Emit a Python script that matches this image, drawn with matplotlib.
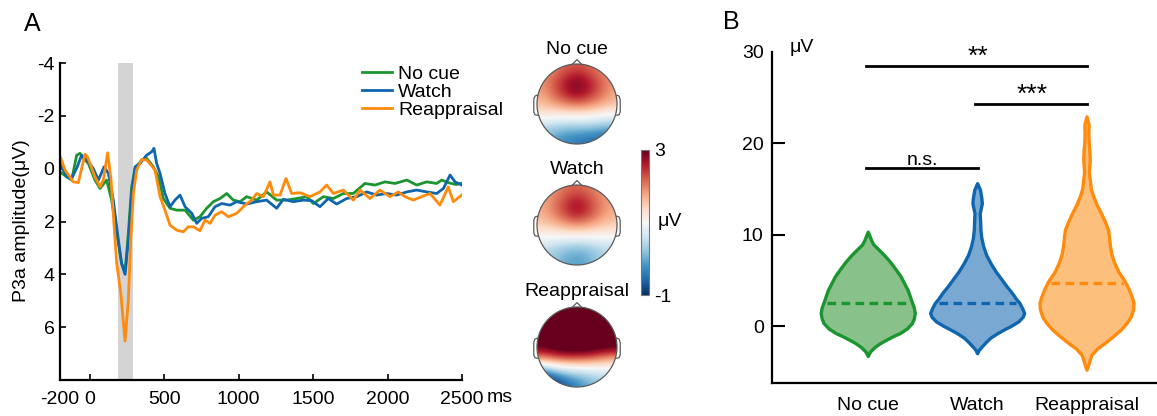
import numpy as np
import matplotlib.pyplot as plt
from matplotlib.patches import Circle
from matplotlib.colors import Normalize
from matplotlib.cm import ScalarMappable

plt.rcParams['font.family'] = ['Liberation Sans', 'DejaVu Sans']
plt.rcParams['font.size'] = 14
plt.rcParams['axes.unicode_minus'] = False

W, H = 1157, 416

# ---- panel A: P3a waveforms (ms, uV) ----
t_nocue = [-200, -155, -122, -88, -66, -43, -10, 35, 69, 113, 147, 181, 214, 237, 259, 281, 304,
           349, 382, 427, 461, 494, 539, 584, 640, 696, 740, 785, 830, 875, 920, 964, 1009, 1054,
           1121, 1188, 1255, 1323, 1390, 1457, 1502, 1569, 1636, 1703, 1770, 1848, 1915, 1983,
           2050, 2129, 2196, 2263, 2330, 2364, 2408, 2460, 2498]
v_nocue = [0.12, 0.31, 0.43, -0.51, -0.58, -0.39, -0.2, 0.43, 0.75, 0.43, 1.19, 2.45, 3.59, 3.9,
           2.45, 0.69, 0.0, -0.33, -0.39, -0.07, 0.31, 1.13, 1.5, 1.57, 1.57, 1.95, 1.82, 1.5,
           1.25, 1.13, 0.94, 1.19, 1.25, 1.06, 1.19, 0.88, 1.19, 1.19, 1.13, 1.06, 1.32, 1.06,
           1.13, 0.94, 0.94, 0.56, 0.62, 0.5, 0.56, 0.43, 0.62, 0.5, 0.56, 0.43, 0.53, 0.6, 0.55]

t_watch = [-200, -155, -122, -84, -55, -21, 24, 58, 96, 125, 158, 192, 214, 237, 259, 281, 304,
           337, 382, 416, 431, 449, 472, 505, 539, 572, 606, 640, 685, 718, 752, 796, 841, 886,
           942, 987, 1054, 1121, 1188, 1255, 1300, 1367, 1434, 1490, 1546, 1602, 1658, 1725,
           1793, 1860, 1927, 1994, 2061, 2129, 2196, 2263, 2330, 2375, 2420, 2453, 2498]
v_watch = [-0.2, 0.31, 0.37, -0.07, -0.51, -0.33, 0.0, 0.43, -0.07, 0.18, 1.19, 2.7, 3.6, 4.0,
           2.7, 0.94, -0.07, -0.2, -0.51, -0.64, -0.77, -0.2, 0.18, 0.94, 1.44, 1.19, 1.0, 1.44,
           1.69, 2.07, 1.88, 1.82, 1.44, 1.32, 1.38, 1.25, 1.34, 1.25, 1.19, 1.5, 1.16, 1.25,
           1.19, 1.21, 1.44, 1.13, 1.34, 1.13, 1.06, 0.88, 1.0, 0.94, 1.0, 0.88, 0.81, 0.88,
           0.94, 0.75, 0.24, 0.5, 0.62]

t_reapp = [-200, -166, -110, -77, -32, -16, 35, 69, 91, 120, 143, 165, 181, 208, 237, 259, 275,
           293, 315, 349, 382, 416, 438, 472, 505, 539, 584, 628, 662, 696, 740, 774, 808, 841,
           886, 931, 987, 1043, 1087, 1121, 1166, 1210, 1233, 1278, 1318, 1356, 1412, 1479, 1546,
           1591, 1636, 1703, 1770, 1815, 1882, 1949, 2016, 2073, 2117, 2173, 2229, 2285, 2352,
           2408, 2442, 2498]
v_reapp = [-0.48, 0.05, 0.5, 0.53, -0.55, -0.45, 0.31, 0.69, 0.43, -0.6, 0.43, 2.3, 3.59, 4.7,
           6.52, 4.98, 2.7, 0.94, 0.05, -0.35, -0.33, -0.1, 0.05, 1.06, 1.57, 2.14, 2.33, 2.39,
           2.2, 2.2, 2.35, 1.95, 2.07, 1.76, 1.63, 1.82, 1.69, 1.38, 1.19, 0.94, 1.06, 0.5, 1.0,
           1.0, 0.37, 0.94, 0.91, 1.06, 0.88, 0.62, 0.94, 0.81, 1.19, 0.81, 1.13, 0.81, 1.06,
           0.88, 1.06, 1.19, 1.06, 0.94, 1.38, 0.69, 1.25, 1.0]

p3a_window = [190, 290]

# ---- topographies (uV), coarse grids, top row = frontal ----
topo_nocue = [[1.8, 2.0, 2.2, 2.3, 2.2, 2.0, 1.8],
              [1.9, 2.2, 2.6, 2.9, 2.6, 2.2, 1.9],
              [1.8, 2.2, 2.6, 2.9, 2.6, 2.2, 1.8],
              [1.6, 1.8, 2.0, 2.1, 2.0, 1.8, 1.6],
              [1.2, 1.1, 1.1, 1.1, 1.1, 1.0, 0.9],
              [0.4, 0.3, 0.2, 0.2, 0.2, 0.1, 0.0],
              [0.1, -0.1, -0.3, -0.4, -0.5, -0.6, -0.6]]
topo_watch = [[1.7, 1.9, 2.1, 2.2, 2.1, 1.9, 1.7],
              [1.8, 2.0, 2.4, 2.7, 2.4, 2.0, 1.8],
              [1.7, 2.0, 2.4, 2.7, 2.4, 2.0, 1.7],
              [1.5, 1.6, 1.8, 1.9, 1.8, 1.6, 1.5],
              [1.0, 1.0, 1.0, 1.0, 1.0, 1.0, 1.0],
              [0.5, 0.4, 0.2, 0.1, 0.2, 0.4, 0.5],
              [0.3, 0.2, 0.0, -0.1, 0.0, 0.3, 0.4]]
topo_reapp = [[3.5, 3.5, 3.5, 3.5, 3.5, 3.5, 3.5],
              [3.5, 3.6, 3.8, 3.9, 3.8, 3.6, 3.5],
              [3.4, 3.6, 3.8, 3.9, 3.8, 3.6, 3.4],
              [3.0, 3.2, 3.4, 3.4, 3.4, 3.2, 3.1],
              [1.9, 2.1, 2.2, 2.2, 2.1, 1.9, 1.7],
              [-0.2, 0.2, 0.5, 0.6, 0.7, 0.8, 0.8],
              [-1.4, -1.1, -0.6, -0.3, 0.0, 0.2, 0.3]]

# ---- panel B: violin outlines (uV level, relative half width) and medians ----
conds = ['No cue', 'Watch', 'Reappraisal']
green_y = [-3.3, -2.8, -2.3, -1.9, -1.5, -1.1, -0.8, -0.3, 0.3, 0.8, 1.4, 2.0, 2.7, 3.3, 3.9,
           4.6, 5.4, 6.2, 6.9, 7.5, 8.0, 8.5, 8.9, 9.4, 9.8, 10.3]
green_w = [0.0, 0.05, 0.15, 0.26, 0.40, 0.55, 0.68, 0.83, 0.94, 0.98, 1.0, 0.98, 0.93, 0.89,
           0.85, 0.78, 0.70, 0.59, 0.49, 0.39, 0.30, 0.20, 0.12, 0.07, 0.04, 0.0]
blue_y = [-3.0, -2.6, -2.3, -1.8, -1.3, -0.8, -0.4, 0.0, 0.5, 1.0, 1.4, 1.9, 2.5, 3.0, 3.6, 4.3,
          5.0, 5.9, 6.9, 7.8, 8.7, 9.6, 10.5, 11.4, 12.3, 12.9, 13.4, 14.0, 14.9, 15.6]
blue_w = [0.0, 0.04, 0.09, 0.18, 0.28, 0.43, 0.57, 0.72, 0.88, 0.97, 1.0, 0.96, 0.90, 0.82,
          0.74, 0.63, 0.53, 0.40, 0.28, 0.19, 0.13, 0.09, 0.07, 0.065, 0.055, 0.08, 0.10, 0.09,
          0.06, 0.0]
orange_y = [-4.8, -4.2, -3.2, -2.5, -1.9, -1.2, -0.4, 0.3, 1.0, 1.8, 2.5, 3.2, 4.1, 5.0, 5.9,
            6.9, 7.8, 8.7, 9.6, 10.5, 11.4, 12.3, 13.2, 14.2, 15.0, 16.0, 16.8, 17.5, 18.2,
            19.3, 20.2, 21.1, 22.0, 22.9]
orange_w = [0.0, 0.04, 0.10, 0.22, 0.38, 0.55, 0.73, 0.85, 0.94, 0.99, 1.0, 0.96, 0.89, 0.80,
            0.68, 0.59, 0.53, 0.50, 0.48, 0.46, 0.39, 0.31, 0.22, 0.14, 0.09, 0.07, 0.05, 0.06,
            0.07, 0.06, 0.045, 0.04, 0.045, 0.0]
medians = [2.6, 2.6, 4.7]

sig_pairs = [(1, 2), (2, 3), (1, 3)]
sig_y = [17.3, 24.3, 28.5]
sig_txt = ['n.s.', '***', '**']

c_green, c_blue, c_orange = '#1b9530', '#1066ae', '#ff8a0c'
f_green, f_blue, f_orange = '#88c18a', '#79a9d2', '#fdc07c'


def box(x0, y0, x1, y1):
    return [x0 / W, 1 - y1 / H, (x1 - x0) / W, (y1 - y0) / H]


fig = plt.figure(figsize=(W / 100, H / 100), dpi=100)

# ---------------- A ----------------
ax = fig.add_axes(box(60, 63, 462, 380))
ax.axvspan(p3a_window[0], p3a_window[1], color='#d4d4d4', lw=0)
ax.plot(t_nocue, v_nocue, color=c_green, lw=2.0, label='No cue')
ax.plot(t_watch, v_watch, color=c_blue, lw=2.0, label='Watch')
ax.plot(t_reapp, v_reapp, color=c_orange, lw=2.0, label='Reappraisal')
ax.set_xlim(-200, 2500)
ax.set_ylim(8, -4)
ax.set_yticks([-4, -2, 0, 2, 4, 6])
ax.set_xticks([-200, 0, 500, 1000, 1500, 2000, 2500])
ax.tick_params(direction='in', length=4, width=1.2, labelsize=14)
ax.tick_params(axis='x', pad=8)
ax.tick_params(axis='y', pad=4)
for s in ['top', 'right']:
    ax.spines[s].set_visible(False)
for s in ['left', 'bottom']:
    ax.spines[s].set_linewidth(1.6)
ax.legend(loc='upper left', bbox_to_anchor=(362 / W, 1 - 65 / H), bbox_transform=fig.transFigure,
          frameon=False, borderpad=0, borderaxespad=0, handlelength=1.55, handletextpad=0.3,
          labelspacing=0.02, fontsize=14)
fig.text(500 / W, 1 - 397 / H, 'ms', ha='center', va='center', fontsize=14)
fig.text(22 / W, 1 - 221 / H, 'P3a amplitude(μV)', rotation=90, ha='center', va='center', fontsize=14)
fig.text(32 / W, 1 - 24 / H, 'A', ha='center', va='center', fontsize=18)
fig.text(731 / W, 1 - 22 / H, 'B', ha='center', va='center', fontsize=18)

# ---------------- topomaps ----------------
norm = Normalize(vmin=-1, vmax=3)
topo_list = [topo_nocue, topo_watch, topo_reapp]
centers = [104, 225, 347]
for k in range(3):
    cy = centers[k]
    tax = fig.add_axes(box(527, cy - 50, 627, cy + 50))
    tax.set_xlim(-1.25, 1.25)
    tax.set_ylim(-1.25, 1.25)
    tax.axis('off')
    im = tax.imshow(np.array(topo_list[k]), cmap='RdBu_r', norm=norm, interpolation='bicubic',
                    extent=(-1.02, 1.02, -1.02, 1.02), origin='upper')
    head = Circle((0, 0), 1.0, transform=tax.transData, fc='none', ec='none')
    tax.add_patch(head)
    im.set_clip_path(head)
    tax.add_patch(Circle((0, 0), 1.0, fc='none', ec='#5a5a5a', lw=0.9))
    tax.plot([-0.12, 0.0, 0.12], [0.99, 1.11, 0.99], color='#5a5a5a', lw=0.9)
    ear_x = [0.99, 1.05, 1.08, 1.08, 1.05, 0.99]
    ear_y = [0.22, 0.2, 0.12, -0.2, -0.27, -0.28]
    tax.plot(ear_x, ear_y, color='#5a5a5a', lw=0.9)
    tax.plot([-e for e in ear_x], ear_y, color='#5a5a5a', lw=0.9)
    fig.text(577 / W, 1 - (cy - 55) / H, conds[k], ha='center', va='center', fontsize=14)

cax = fig.add_axes(box(641, 150, 649, 295))
cb = fig.colorbar(ScalarMappable(norm=norm, cmap='RdBu_r'), cax=cax, ticks=[-1, 3])
cb.outline.set_edgecolor('#777777')
cb.outline.set_linewidth(0.8)
cax.tick_params(length=0, labelsize=14, pad=4)
fig.text(670 / W, 1 - 221 / H, 'μV', ha='center', va='center', fontsize=14)

# ---------------- B ----------------
bx = fig.add_axes(box(772, 52, 1157, 383))
half = 0.43
profiles = [(green_y, green_w, c_green, f_green),
            (blue_y, blue_w, c_blue, f_blue),
            (orange_y, orange_w, c_orange, f_orange)]
for i, (yy, ww, ec, fc) in enumerate(profiles):
    pos = i + 1
    yy = np.array(yy)
    ww = np.array(ww) * half
    xs = np.concatenate([pos + ww, (pos - ww)[::-1]])
    ys = np.concatenate([yy, yy[::-1]])
    bx.fill(xs, ys, fc=fc, ec=ec, lw=2.4, joinstyle='round', capstyle='round')
    m = medians[i]
    mw = np.interp(m, yy, ww) * 0.93
    bx.plot([pos - mw, pos + mw], [m, m], color=ec, lw=2.4, ls=(0, (2.6, 1.6)))

for (a, b), y, txt in zip(sig_pairs, sig_y, sig_txt):
    bx.plot([a - 0.02, b], [y, y], color='black', lw=2.0)
    if txt == 'n.s.':
        bx.text((a + b) / 2, y + 0.35, txt, ha='center', va='baseline', fontsize=14)
    else:
        bx.text((a + b) / 2, y + 0.2, txt, ha='center', va='baseline', fontsize=19)

bx.set_xlim(0.12, 3.64)
bx.set_ylim(-6.2, 30)
bx.set_yticks([0, 10, 20, 30])
bx.set_xticks([1, 2, 3])
bx.set_xticklabels(conds)
bx.tick_params(axis='y', direction='in', length=9, width=1.5, labelsize=14, pad=6)
bx.tick_params(axis='x', length=0, labelsize=14, pad=10)
bx.yaxis.get_major_ticks()[-1].tick1line.set_visible(False)
for s in ['top', 'right']:
    bx.spines[s].set_visible(False)
for s in ['left', 'bottom']:
    bx.spines[s].set_linewidth(1.6)
fig.text(802 / W, 1 - 47 / H, 'μV', ha='center', va='center', fontsize=14)

fig.savefig('out.png', dpi=100)
